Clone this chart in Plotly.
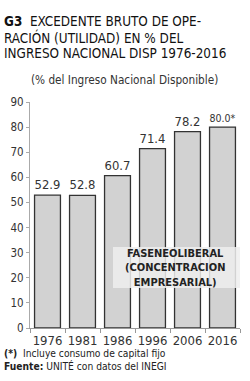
import plotly.graph_objects as go

years = ["1976", "1981", "1986", "1996", "2006", "2016"]
values = [52.9, 52.8, 60.7, 71.4, 78.2, 80.0]
labels = ["52.9", "52.8", "60.7", "71.4", "78.2", "80.0*"]
y_ticks = [0, 10, 20, 30, 40, 50, 60, 70, 80, 90]

title_lines = ["<b>G3</b>  EXCEDENTE BRUTO DE OPE-",
               "RACIÓN (UTILIDAD) EN % DEL",
               "INGRESO NACIONAL DISP 1976-2016"]
subtitle = "(% del Ingreso Nacional Disponible)"
box_text = "FASENEOLIBERAL<br>(CONCENTRACION<br>EMPRESARIAL)"
notes = ["<b>(*)</b>  Incluye consumo de capital fijo",
         "<b>Fuente:</b> UNITÉ con datos del INEGI"]

NARROW = "Liberation Sans Narrow, DejaVu Sans Condensed, Arial Narrow, sans-serif"

W, H = 250, 381
L, R, T, B = 30, 10, 102, 53
PW, PH = W - L - R, H - T - B


def px(x):
    return (x - L) / PW


def py(y):
    return (H - B - y) / PH


fig = go.Figure()
fig.add_trace(go.Bar(
    x=years, y=values, text=labels, textposition="outside",
    textfont=dict(family=NARROW, size=13, color="#333333"),
    marker=dict(color="#d2d2d2", line=dict(color="#333333", width=1.3)),
    cliponaxis=False, hoverinfo="skip",
))

fig.update_layout(
    width=W, height=H,
    margin=dict(l=L, r=R, t=T, b=B, autoexpand=False),
    paper_bgcolor="white", plot_bgcolor="white",
    bargap=0.26, showlegend=False,
    xaxis=dict(type="category", showgrid=False, showline=True, linecolor="#999999",
               linewidth=1, ticks="outside", tickson="boundaries", ticklen=4,
               tickcolor="#999999", tickangle=0, automargin=False,
               tickfont=dict(family=NARROW, size=13, color="#333333")),
    yaxis=dict(range=[0, 90], tickvals=y_ticks, showgrid=False, zeroline=False,
               showline=True, linecolor="#aaaaaa", linewidth=1, ticks="outside",
               ticklen=3, tickcolor="#aaaaaa", automargin=False,
               tickfont=dict(family=NARROW, size=11.5, color="#333333")),
)

# semi-transparent label box
fig.add_shape(type="rect", xref="paper", yref="paper",
              x0=px(113), x1=px(240), y0=py(288), y1=py(247),
              fillcolor="rgba(238,238,238,0.85)", line=dict(width=0), layer="above")

fig.add_annotation(xref="paper", yref="paper", x=px(175), y=py(268),
                   text="<b>" + box_text + "</b>", showarrow=False,
                   xanchor="center", yanchor="middle", align="center",
                   font=dict(family=NARROW, size=11, color="#222222"))

for t, yy in zip(title_lines, [22, 37, 54]):
    fig.add_annotation(xref="paper", yref="paper", x=px(2), y=py(yy),
                       xanchor="left", yanchor="middle", showarrow=False, text=t,
                       font=dict(family=NARROW, size=13.4, color="#111111"))

fig.add_annotation(xref="paper", yref="paper", x=px(124), y=py(80),
                   xanchor="center", yanchor="middle", showarrow=False,
                   text=subtitle,
                   font=dict(family=NARROW, size=11.7, color="#333333"))

for t, yy in zip(notes, [353, 366]):
    fig.add_annotation(xref="paper", yref="paper", x=px(2), y=py(yy),
                       xanchor="left", yanchor="middle", showarrow=False, text=t,
                       font=dict(family=NARROW, size=10.2, color="#222222"))

fig.write_html("out.html")
